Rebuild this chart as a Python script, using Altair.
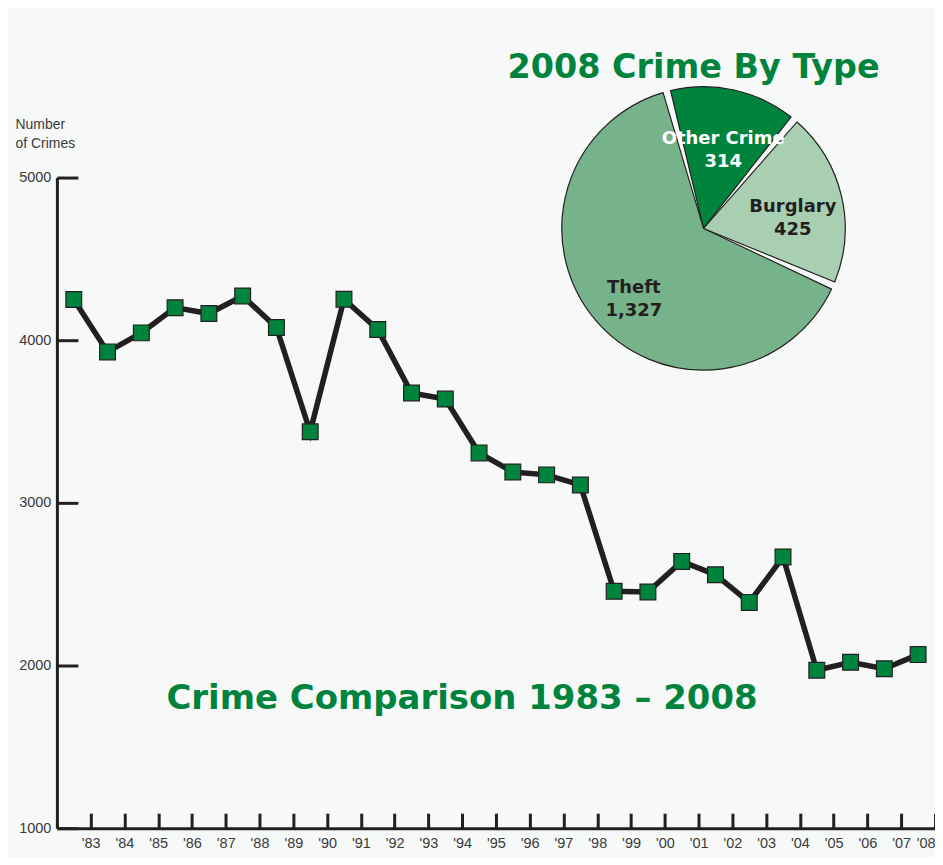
import math
import altair as alt
import pandas as pd

# ---------------- data ----------------
years = list(range(1983, 2009))
crimes = [4250, 3928, 4045, 4200, 4164, 4272, 4078, 3437, 4252, 4066,
          3675, 3638, 3307, 3190, 3172, 3110, 2456, 2452, 2640, 2558,
          2388, 2667, 1971, 2020, 1980, 2067]
y_tick_values = [1000, 2000, 3000, 4000, 5000]
y_title = ["Number", "of Crimes"]

crime_types = ["Other Crime", "Burglary", "Theft"]
type_counts = [314, 425, 1327]
type_colors = ["#00843d", "#a9cfb3", "#76b38b"]

pie_title = "2008 Crime By Type"
line_title = "Crime Comparison 1983 \u2013 2008"

# ---------------- tables ----------------
line_df = pd.DataFrame({"year": years, "crimes": crimes})
pie_df = pd.DataFrame({
    "type": crime_types,
    "count": type_counts,
    "k": list(range(len(crime_types))),
    "label": [f"{t}\n{c:,}" for t, c in zip(crime_types, type_counts)],
})

# ---------------- layout / style ----------------
W, H = 880, 652
INK = "#231f20"
GREEN = "#00843d"
TXT = "#3a3a3a"
FONT = "Liberation Sans"
HEAD = "DejaVu Sans"

tick_vals = [y + 0.5 for y in years]
x_scale = alt.Scale(domain=[years[0] - 0.5, years[-1] + 0.5], nice=False, zero=False)
y_scale = alt.Scale(domain=[y_tick_values[0], y_tick_values[-1]], nice=False, zero=False)
year_label = "\"'\" + substring(toString(floor(datum.value)), 2)"

x_main = alt.X("year:Q", scale=x_scale, title=None,
               axis=alt.Axis(values=tick_vals, labelExpr=year_label, ticks=False, grid=False,
                             domainColor=INK, domainWidth=3, labelFont=FONT, labelFontSize=14.5,
                             labelColor=TXT, labelPadding=8, labelFlush=False,
                             labelOverlap=False, labelBound=False,
                             labelAlign={"condition": {"test": f"datum.value > {years[-1]}",
                                                       "value": "right"},
                                         "value": "center"}))
y_main = alt.Y("crimes:Q", scale=y_scale,
               axis=alt.Axis(values=y_tick_values, format="d", ticks=False, grid=False,
                             domainColor=INK, domainWidth=3, labelFont=FONT, labelFontSize=14.5,
                             labelColor=TXT, labelPadding=6, title=y_title, titleAngle=0,
                             titleAlign="left", titleBaseline="alphabetic", titleX=-42,
                             titleY=-49, titleFont=FONT, titleFontSize=14,
                             titleFontWeight="normal", titleColor=TXT, titleLineHeight=19))

x_ticks = alt.X("year:Q", scale=x_scale, title=None,
                axis=alt.Axis(orient="top", offset=-H, values=tick_vals, labels=False,
                              domain=False, grid=False, ticks=True, tickSize=15,
                              tickWidth=3, tickColor=INK))
y_ticks = alt.Y("crimes:Q", scale=y_scale, title=None,
                axis=alt.Axis(orient="right", offset=-W, values=y_tick_values, labels=False,
                              domain=False, grid=False, ticks=True, tickSize=21,
                              tickWidth=3, tickColor=INK))

line = alt.Chart(line_df).mark_line(color=INK, strokeWidth=5.5, strokeJoin="miter").encode(
    x=x_main, y=y_main)
points = alt.Chart(line_df).mark_square(size=250, color=GREEN, opacity=1, stroke=INK,
                                        strokeWidth=1.2).encode(
    x=alt.X("year:Q", scale=x_scale, axis=None),
    y=alt.Y("crimes:Q", scale=y_scale, axis=None))
ticks = alt.Chart(line_df).mark_line(strokeOpacity=0).encode(x=x_ticks, y=y_ticks)

# ---------------- pie ----------------
CX, CY = 648, 51
start = math.radians(-15)
theta = alt.Theta("count:Q", stack=True,
                  scale=alt.Scale(range=[start, start + 2 * math.pi]))
arc = alt.Chart(pie_df).mark_arc(outerRadius=142, padAngle=0.055, stroke=INK,
                                 strokeWidth=1.2).encode(
    theta=theta,
    order=alt.Order("k:Q"),
    color=alt.Color("type:N", scale=alt.Scale(domain=crime_types, range=type_colors),
                    legend=None),
    x=alt.value(CX), y=alt.value(CY))
arc_text = alt.Chart(pie_df).mark_text(radius=92, font=HEAD, fontSize=18, fontWeight="bold",
                                       lineBreak="\n", lineHeight=23, align="center",
                                       baseline="middle").encode(
    theta=theta,
    order=alt.Order("k:Q"),
    text="label:N",
    color=alt.condition("datum.type === 'Other Crime'", alt.value("white"), alt.value(INK)),
    x=alt.value(CX), y=alt.value(CY))

# ---------------- titles ----------------
t1 = alt.Chart(pd.DataFrame({"t": [pie_title]})).mark_text(
    font=HEAD, fontSize=33.5, fontWeight="bold", color=GREEN, align="center",
    baseline="alphabetic").encode(text="t:N", x=alt.value(638), y=alt.value(-100))
t2 = alt.Chart(pd.DataFrame({"t": [line_title]})).mark_text(
    font=HEAD, fontSize=34, fontWeight="bold", color=GREEN,
    align="center", baseline="alphabetic").encode(text="t:N", x=alt.value(406),
                                                   y=alt.value(533))

chart = alt.layer(arc, arc_text, ticks, line, points, t1, t2).resolve_axis(
    x="independent", y="independent"
).properties(
    width=W, height=H,
    autosize=alt.AutoSizeParams(type="none"),
    padding={"left": 49, "top": 169, "right": 0, "bottom": 28},
    background="#f7f9f8",
).configure_view(stroke=None)

chart.save("out.html", embed_options={"renderer": "svg", "actions": False})
